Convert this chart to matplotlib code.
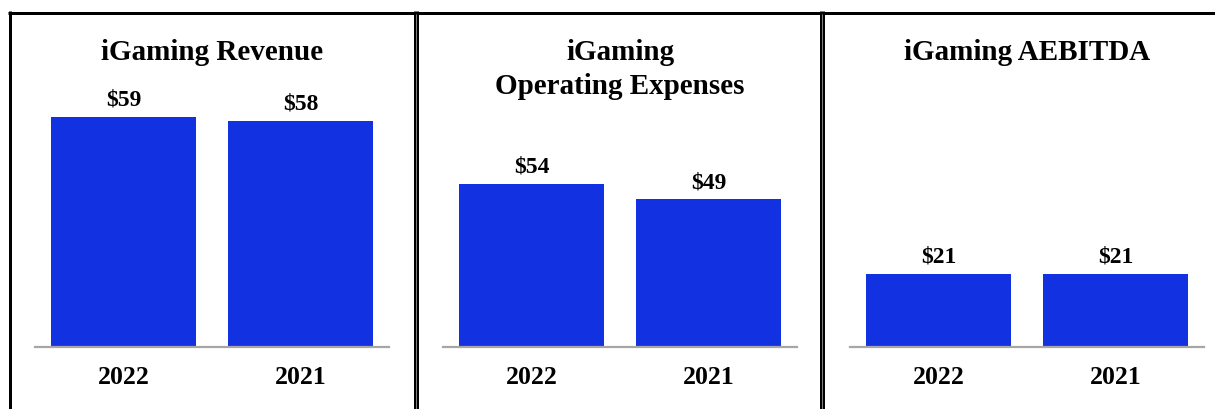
import matplotlib
matplotlib.use("Agg")
import matplotlib.pyplot as plt
from matplotlib.lines import Line2D

# ---- data ----
years = ["2022", "2021"]
titles = ["iGaming Revenue", "iGaming\nOperating Expenses", "iGaming AEBITDA"]
revenue = [59, 58]
opex = [54, 49]
aebitda = [21, 21]
series = [revenue, opex, aebitda]
value_labels = [["$59", "$58"], ["$54", "$49"], ["$21", "$21"]]

# ---- layout ----
W, H = 1215, 409
fig = plt.figure(figsize=(W / 100, H / 100), dpi=100)
fig.patch.set_facecolor("white")
plt.rcParams["font.family"] = ["Liberation Serif", "DejaVu Serif"]

bar_color = "#1232E2"
axes_left_px = [35, 443, 850]
axes_w_px = 354
base_px = 347
top_px = 60
ytops = [73.6, 95.1, 82.6]  # per-panel vertical scale
title_top = 38.5

def fx(px):
    return px / W

def fy(py):
    return 1 - py / H

for i in range(3):
    ax = fig.add_axes([fx(axes_left_px[i]), fy(base_px), axes_w_px / W, (base_px - top_px) / H])
    x = list(range(len(years)))
    bars = ax.bar(x, series[i], width=0.814, color=bar_color, zorder=2)
    ax.set_xlim(-0.5, 1.5)
    ax.set_ylim(0, ytops[i])
    for s in ["top", "left", "right"]:
        ax.spines[s].set_visible(False)
    ax.spines["bottom"].set_color("#a6a6a6")
    ax.spines["bottom"].set_linewidth(1.6)
    ax.spines["bottom"].set_zorder(3)
    ax.set_yticks([])
    ax.set_xticks(x)
    ax.set_xticklabels(years, fontsize=18.5, fontweight="bold")
    ax.tick_params(axis="x", length=0, pad=14)
    for b, lab in zip(bars, value_labels[i]):
        ax.annotate(lab, (b.get_x() + b.get_width() / 2, b.get_height()),
                    xytext=(0, 8), textcoords="offset points",
                    ha="center", va="baseline", fontsize=17, fontweight="bold")
    cx = axes_left_px[i] + axes_w_px / 2
    fig.text(fx(cx), fy(title_top), titles[i], ha="center", va="top",
             fontsize=21, fontweight="bold", linespacing=1.35)

# ---- panel borders ----
lw3 = 3 * 72 / 100
fig.add_artist(Line2D([fx(8), fx(W)], [fy(12.5), fy(12.5)], color="black", lw=lw3,
                      solid_capstyle="butt"))
fig.add_artist(Line2D([fx(9.5), fx(9.5)], [fy(11), fy(H)], color="black", lw=lw3,
                      solid_capstyle="butt"))
for xc in (415.7, 821.5):
    fig.add_artist(Line2D([fx(xc), fx(xc)], [fy(11), fy(H)], color="black", lw=5 * 72 / 100,
                          solid_capstyle="butt"))
    fig.add_artist(Line2D([fx(xc), fx(xc)], [fy(14), fy(H)], color="#9a9a9a", lw=0.6,
                          solid_capstyle="butt"))

fig.savefig("out.png", dpi=100, facecolor="white")
